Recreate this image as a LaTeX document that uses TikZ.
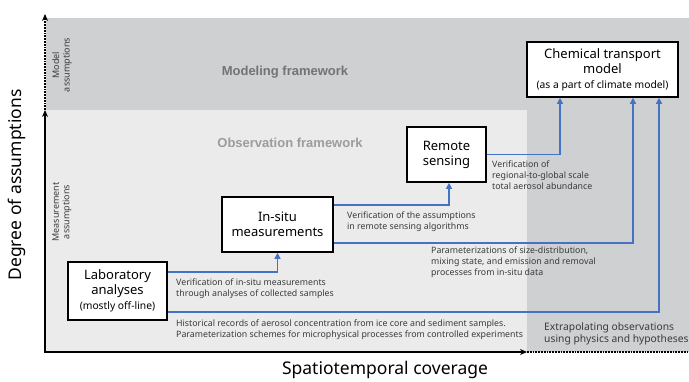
\documentclass[tikz,border=0pt]{standalone}
\usepackage{fontspec}
\setmainfont{Noto Sans}
\newfontfamily\framefont{Liberation Sans}
\usetikzlibrary{arrows.meta}
\definecolor{modelgray}{HTML}{CFD0D2}
\definecolor{obsgray}{HTML}{EBEBEB}
\definecolor{flowblue}{HTML}{4472C4}
\definecolor{labelgray}{HTML}{737373}
\definecolor{lightlabel}{HTML}{9C9C9C}
\definecolor{textgray}{HTML}{3A3A3A}
\tikzset{
  box/.style={draw, line width=1.6pt, fill=white, align=center, inner sep=0pt,
    font=\fontsize{13}{15}\selectfont},
  flow/.style={flowblue, line width=1.2pt, -{Triangle[length=6pt,width=6pt]}},
  axis/.style={line width=1.6pt, -{Stealth[length=7pt,width=6pt]}},
  note/.style={anchor=north west, align=left, inner sep=0pt, text=textgray,
    font=\fontsize{8.8}{11}\selectfont},
  side/.style={rotate=90, align=center, text=textgray, font=\fontsize{9}{10.5}\selectfont},
  frame/.style={font=\framefont\bfseries\fontsize{13}{15}\selectfont},
}
\begin{document}
\begin{tikzpicture}[x=1pt, y=-1pt]
    \useasboundingbox (0,0) rectangle (689,381);
    % frameworks
    \fill[modelgray] (46,18) rectangle (689,352);
    \fill[obsgray] (46,110) rectangle (527,352);
    \node[frame, text=labelgray] (modeling) at (285,72) {Modeling framework};
    \node[frame, text=lightlabel] (observation) at (290,143) {Observation framework};
    % axes
    \coordinate (origin) at (45,352);
    \coordinate (ysplit) at (45,110);
    \coordinate (ytop) at (45,14);
    \coordinate (xsplit) at (527,352);
    \coordinate (xend) at (689,352);
    \draw[axis] (origin) -- (ysplit);
    \draw[axis, dash pattern=on 1.8pt off 1pt] (ysplit) -- (ytop);
    \draw[axis] ([xshift=-0.8pt]origin) -- (xsplit);
    \draw[line width=1.6pt, dash pattern=on 1.8pt off 1pt] (xsplit) -- (xend);
    \node[rotate=90, font=\fontsize{17.5}{20}\selectfont] (ylabel) at (17,185) {Degree of assumptions};
    \node[font=\fontsize{17.5}{20}\selectfont] (xlabel) at (385,370) {Spatiotemporal coverage};
    \node[side] (modelassump) at (62,65) {Model\\assumptions};
    \node[side] (measassump) at (62,212) {Measurement\\assumptions};
    % boxes
    \node[box, minimum width=151pt, minimum height=55pt] (ctm) at (602.5,69.5)
        {Chemical transport\\model\\{\fontsize{10.3}{12}\selectfont(as a part of climate model)}};
    \node[box, minimum width=79pt, minimum height=55pt] (remote) at (446.5,154.5) {Remote\\sensing};
    \node[box, minimum width=111pt, minimum height=55pt] (insitu) at (277.5,224.5) {In-situ\\measurements};
    \node[box, minimum width=99pt, minimum height=58pt] (lab) at (117.5,291)
        {Laboratory\\analyses\\{\fontsize{10.3}{12}\selectfont(mostly off-line)}};
    % flows
    \draw[flow] ([yshift=19pt]lab.east) -| (insitu.south);
    \draw[flow] ([yshift=-21pt]lab.east) -| ([xshift=56.5pt]ctm.south);
    \draw[flow] ([yshift=19.5pt]insitu.east) -| ([xshift=2.5pt]remote.south);
    \draw[flow] ([yshift=-18.5pt]insitu.east) -| ([xshift=30.5pt]ctm.south);
    \draw[flow] (remote.east) -| ([xshift=-42.5pt]ctm.south);
    % notes
    \node[note] (labnote) at (176,279) {Verification of in-situ measurements\\through analyses of collected samples};
    \node[note] (recordnote) at (176,320) {Historical records of aerosol concentration from ice core and sediment samples.\\Parameterization schemes for microphysical processes from controlled experiments};
    \node[note] (insitunote) at (347,212) {Verification of the assumptions\\in remote sensing algorithms};
    \node[note] (paramnote) at (431,247) {Parameterizations of size-distribution,\\mixing state, and emission and removal\\processes from in-situ data};
    \node[note] (remotenote) at (492,161) {Verification of\\regional-to-global scale\\total aerosol abundance};
    \node[note, font=\fontsize{10.3}{12.5}\selectfont] (extranote) at (544,322) {Extrapolating observations\\using physics and hypotheses};
\end{tikzpicture}
\end{document}
